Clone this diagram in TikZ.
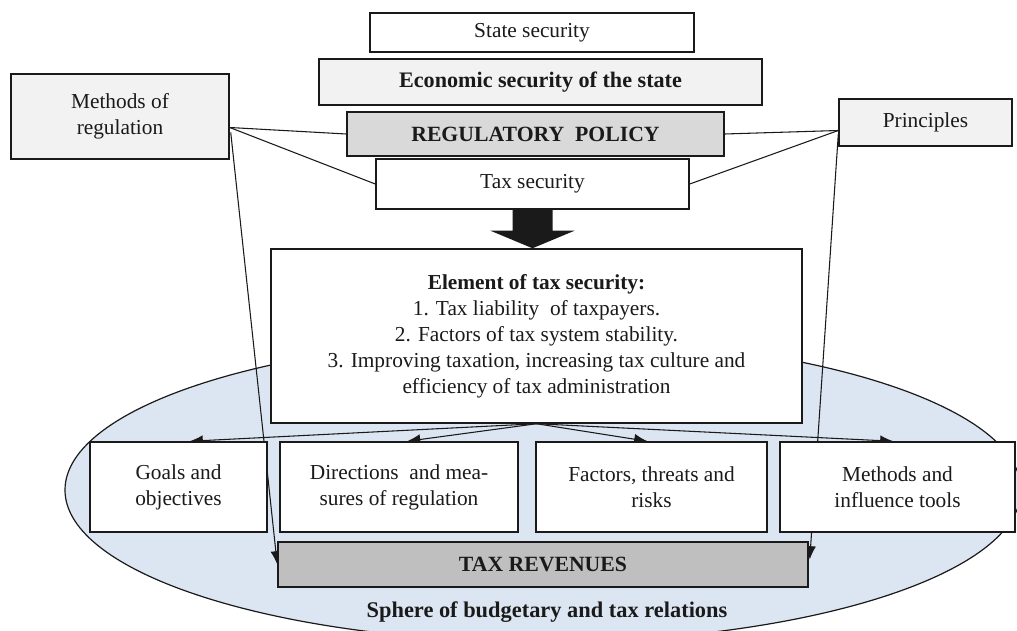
\documentclass[tikz,border=0pt]{standalone}
\usepackage{fontspec}
\setmainfont{Liberation Serif}
\usetikzlibrary{calc,arrows.meta}
\pgfdeclarelayer{bg}
\pgfdeclarelayer{lines}
\pgfsetlayers{bg,lines,main}
\definecolor{lightbox}{HTML}{F2F2F2}
\definecolor{midbox}{HTML}{D9D9D9}
\definecolor{darkbox}{HTML}{BFBFBF}
\definecolor{sphere}{HTML}{DCE6F2}
\definecolor{ink}{HTML}{1A1A1A}
\begin{document}
\begin{tikzpicture}[x=0.75pt,y=-0.75pt,
  box/.style={draw=ink,line width=1.1pt,fill=white,inner sep=2pt,align=center,
    font=\fontsize{16}{19.5}\selectfont,text=ink},
  conn/.style={draw=ink,line width=0.8pt},
  arr/.style={conn,-{Latex[length=10pt,width=8pt]}}]
\useasboundingbox (0,0) rectangle (1017,631);

% top stack
\node[box,minimum width=243pt,minimum height=29.25pt] (ssec) at (532,32.5) {State security};
\node[box,fill=lightbox,minimum width=332.25pt,minimum height=34.5pt,font=\fontsize{16.6}{19.5}\selectfont\bfseries] (esec) at (540.5,82) {Economic security of the state};
\node[box,fill=midbox,minimum width=282.75pt,minimum height=33pt,font=\fontsize{16.3}{19.5}\selectfont\bfseries] (regp) at (535.5,134) {REGULATORY\ \ POLICY};
\node[box,minimum width=234.75pt,minimum height=37.5pt] (tsec) at (532.5,184) {Tax security};

% side boxes
\node[box,fill=lightbox,minimum width=163.5pt,minimum height=63.75pt] (mreg) at (120,116.5) {Methods of\\regulation};
\node[box,fill=lightbox,minimum width=129.75pt,minimum height=35.25pt] (prin) at (925.5,122.5) {Principles};

% element box
\node[box,minimum width=398.25pt,minimum height=130.5pt] (elem) at (536.5,336)
  {\textbf{Element of tax security:}\\1. Tax liability\ \ of taxpayers.\\2. Factors of tax system stability.\\3. Improving taxation, increasing tax culture and\\efficiency of tax administration};

% four boxes
\node[box,minimum width=132.75pt,minimum height=67.5pt] (goals) at (178.5,487) {Goals and\\objectives};
\node[box,minimum width=178.5pt,minimum height=67.5pt] (dirs) at (399,487) {Directions\ \ and mea-\\sures of regulation};
\node[box,minimum width=173.25pt,minimum height=67.5pt] (fact) at (651.5,487) {Factors, threats and\\risks};
\node[box,minimum width=176.25pt,minimum height=67.5pt] (mtool) at (897.5,487) {Methods and\\influence tools};

% tax revenues
\node[box,fill=darkbox,minimum width=397.5pt,minimum height=33.75pt,font=\fontsize{16.3}{19.5}\selectfont\bfseries] (trev) at (543,564.5) {TAX REVENUES};

\node[font=\fontsize{16.8}{19.5}\selectfont\bfseries,text=ink,inner sep=0pt] (sph) at (547,612) {Sphere of budgetary and tax relations};

% block arrow
\fill[ink] ($(tsec.south)+(-20,0)$) -- ($(tsec.south)+(20,0)$) -- ($(tsec.south)+(20,21)$)
  -- ($(tsec.south)+(42,21)$) -- (tsec.south |- elem.north) -- ($(tsec.south)+(-42,21)$)
  -- ($(tsec.south)+(-20,21)$) -- cycle;

\begin{pgfonlayer}{bg}
  \clip (0,0) rectangle (1017,631);
  \path[fill=sphere,draw=ink,line width=0.9pt] (543,490) ellipse [x radius=478,y radius=152];
\end{pgfonlayer}

\begin{pgfonlayer}{lines}
  \coordinate (ml) at ($(mreg.east)+(0,11)$);
  \coordinate (pl) at ($(prin.west)+(0,8)$);
  \draw[conn] (ml) -- (regp.west);
  \draw[conn] (ml) -- (tsec.west);
  \draw[arr] ($(mreg.east)+(1,16)$) -- (trev.west);
  \draw[conn] (pl) -- (regp.east);
  \draw[conn] (pl) -- (tsec.east);
  \draw[arr] ($(prin.west)+(0,12)$) -- ($(trev.east)+(1,-5)$);
  \draw[arr] (elem.south) -- ($(goals.north)+(11,0)$);
  \draw[arr] (elem.south) -- ($(dirs.north)+(8,0)$);
  \draw[arr] (elem.south) -- ($(fact.north)+(-4,0)$);
  \draw[arr] (elem.south) -- ($(mtool.north)+(-4,0)$);
\end{pgfonlayer}
\end{tikzpicture}
\end{document}
